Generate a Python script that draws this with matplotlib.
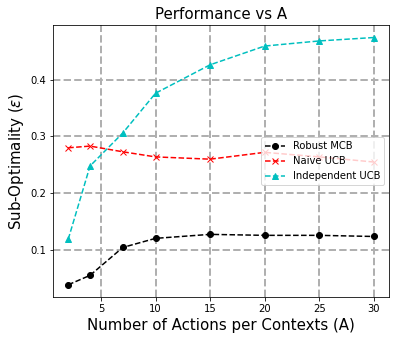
import matplotlib
matplotlib.use("Agg")
import matplotlib.pyplot as plt

actions = [2, 4, 7, 10, 15, 20, 25, 30]
robust_mcb = [0.039, 0.0556, 0.1047, 0.1207, 0.1277, 0.126, 0.126, 0.124]
naive_ucb = [0.280, 0.283, 0.273, 0.264, 0.260, 0.272, 0.264, 0.255]
independent_ucb = [0.119, 0.248, 0.306, 0.376, 0.426, 0.459, 0.468, 0.474]

fig, ax = plt.subplots(figsize=(395 / 72, 340 / 72), dpi=72)
ax.plot(actions, robust_mcb, 'ko--', label='Robust MCB')
ax.plot(actions, naive_ucb, 'rx--', label='Naive UCB')
ax.plot(actions, independent_ucb, 'c^--', label='Independent UCB')
ax.grid(True, linestyle='--', linewidth=2, color='#b0b0b0')
ax.set_axisbelow(True)
ax.set_title('Performance vs A', fontsize=15)
ax.set_xlabel('Number of Actions per Contexts (A)', fontsize=15)
ax.set_ylabel(r'Sub-Optimality ($\epsilon$)', fontsize=15)
ax.legend(loc='center right')
fig.subplots_adjust(left=0.134, right=0.985, top=0.926, bottom=0.126)
fig.savefig('out.png', dpi=72)
